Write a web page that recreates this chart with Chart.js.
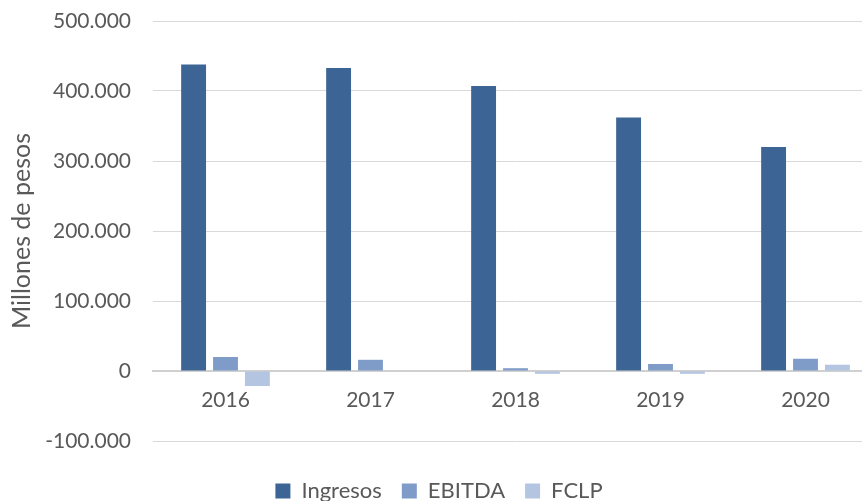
<!DOCTYPE html>
<html>
<head>
<meta charset="utf-8">
<script src="https://cdn.jsdelivr.net/npm/chart.js@4"></script>
<style>
  html,body{margin:0;padding:0;background:#fff;overflow:hidden;}
  #wrap{width:878px;height:501px;position:relative;}
</style>
</head>
<body>
<div id="wrap"><canvas id="chart"></canvas></div>
<script>
// ===================== DATA =====================
const years=['2016','2017','2018','2019','2020'];
const ingresos=[438000,433000,407000,362000,320000];
const ebitda=[20000,16000,4000,10000,17500];
const fclp=[-21500,0,-4000,-4000,9000];
const yTicks=[-100000,0,100000,200000,300000,400000,500000];

// ===================== HELPERS =====================
const GRAY='#595959';
function fmtMiles(v){
  const s=Math.abs(v).toString().replace(/\B(?=(\d{3})+(?!\d))/g,'.');
  return (v<0?'-':'')+s;
}

Chart.defaults.font.family='Lato, "Open Sans", sans-serif';
Chart.defaults.color=GRAY;

new Chart(document.getElementById('chart').getContext('2d'),{
  type:'bar',
  data:{
    labels:years,
    datasets:[
      {label:'Ingresos',data:ingresos,backgroundColor:'#3c6494'},
      {label:'EBITDA',data:ebitda,backgroundColor:'#7f9cc8'},
      {label:'FCLP',data:fclp,backgroundColor:'#b4c5e1'}
    ]
  },
  options:{
    responsive:true,maintainAspectRatio:false,animation:false,
    layout:{padding:{top:0,bottom:-11,left:0,right:0}},
    datasets:{bar:{categoryPercentage:0.66,barPercentage:0.78}},
    plugins:{
      legend:{position:'bottom',
        title:{display:true,text:'',font:{size:10},padding:{top:7,bottom:0}},
        labels:{boxWidth:15,boxHeight:15,padding:20,font:{size:22},color:GRAY}},
      tooltip:{enabled:false}
    },
    scales:{
      x:{
        position:{y:0},
        afterFit:s=>{s.height=0;},
        grid:{display:false},
        border:{color:'#d0d0d0',width:2},
        ticks:{font:{size:21},color:GRAY,padding:9}
      },
      y:{
        min:-100000,max:500000,
        afterBuildTicks:s=>{s.ticks=yTicks.map(v=>({value:v}));},
        afterFit:s=>{s.width=153;s.paddingTop=21;s.paddingBottom=0;},
        grid:{color:'#d9d9d9',drawTicks:false,lineWidth:1},
        border:{display:false},
        ticks:{font:{size:21},color:GRAY,padding:22,callback:v=>fmtMiles(v)},
        title:{display:true,text:'Millones de pesos',font:{size:25},color:GRAY,padding:{top:7,bottom:0}}
      }
    }
  }
});
</script>
</body>
</html>
